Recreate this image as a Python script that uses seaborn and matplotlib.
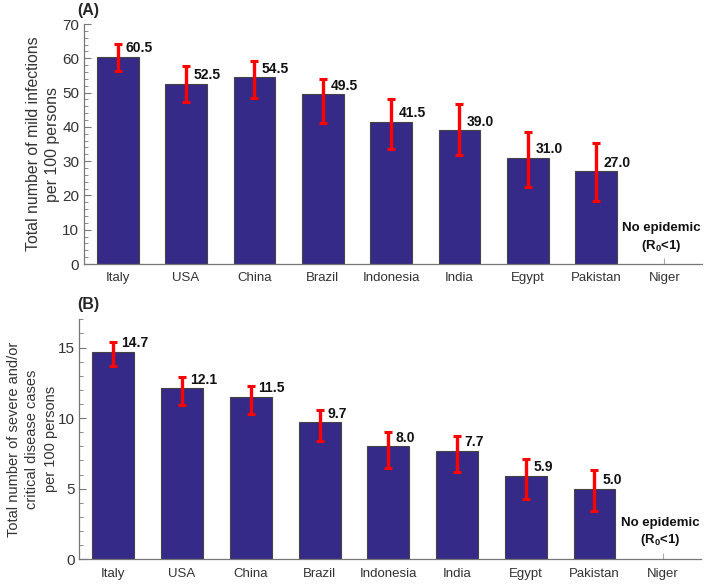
import numpy as np
import pandas as pd
import seaborn as sns
import matplotlib.pyplot as plt
from matplotlib.ticker import MultipleLocator

countries = ['Italy', 'USA', 'China', 'Brazil', 'Indonesia', 'India', 'Egypt', 'Pakistan', 'Niger']

mild = [60.5, 52.5, 54.5, 49.5, 41.5, 39.0, 31.0, 27.0, np.nan]
mild_lo = [56.2, 47.3, 48.5, 41.2, 33.6, 31.8, 22.6, 18.5, np.nan]
mild_hi = [64.3, 57.7, 59.2, 53.9, 48.0, 46.6, 38.6, 35.2, np.nan]

severe = [14.7, 12.1, 11.5, 9.7, 8.0, 7.7, 5.9, 5.0, np.nan]
severe_lo = [13.7, 10.9, 10.3, 8.4, 6.5, 6.2, 4.3, 3.4, np.nan]
severe_hi = [15.4, 12.9, 12.3, 10.6, 9.0, 8.7, 7.1, 6.3, np.nan]

sns.set_style('ticks')
plt.rcParams['font.family'] = ['Liberation Sans', 'DejaVu Sans']
plt.rcParams['mathtext.fontset'] = 'custom'
plt.rcParams['mathtext.rm'] = 'Liberation Sans:bold'
plt.rcParams['mathtext.it'] = 'Liberation Sans:bold'

BAR = '#352a87'
GREY = '#777777'
TXT = '#333333'

fig = plt.figure(figsize=(7.04, 5.84), dpi=100)
ax_a = fig.add_axes([83.5 / 704, 1 - 264 / 584, (702 - 83.5) / 704, 240 / 584])
ax_b = fig.add_axes([79 / 704, 1 - 559.3 / 584, (701 - 79) / 704, 240 / 584])


def panel(ax, vals, lo, hi, ymax, major, minor, ylabel, lab_size, lab_spacing, lab_x, note_y):
    df = pd.DataFrame({'country': countries, 'value': vals})
    sns.barplot(data=df, x='country', y='value', order=countries, color=BAR,
                saturation=1, width=0.61, edgecolor='#444444', linewidth=0.8, ax=ax)
    v = np.array(vals)
    yerr = np.vstack([v - np.array(lo), np.array(hi) - v])
    xs = np.arange(len(countries))
    ax.errorbar(xs, v, yerr=yerr, fmt='none', ecolor='#ff0000', elinewidth=2.4,
                capsize=3, capthick=2.2, zorder=4)
    for x, val in zip(xs, vals):
        if np.isnan(val):
            continue
        ax.annotate(f'{val:.1f}', (x, val), xytext=(5.5, 6.2), textcoords='offset points',
                    ha='left', va='center', fontsize=10, fontweight='bold', color='#111111')
    ax.text(7.96, note_y, 'No epidemic\n(R$_0$<1)', ha='center', va='bottom',
            fontsize=9.5, fontweight='bold', color='#111111', linespacing=1.3)
    ax.set_xlim(-0.5, 8.55)
    ax.set_ylim(0, ymax)
    ax.yaxis.set_major_locator(MultipleLocator(major))
    ax.yaxis.set_minor_locator(MultipleLocator(minor))
    ax.set_axisbelow(True)
    sns.despine(ax=ax)
    for s in ['left', 'bottom']:
        ax.spines[s].set_color(GREY)
        ax.spines[s].set_linewidth(0.9)
    ax.tick_params(axis='y', which='major', direction='in', length=5, color=GREY,
                   labelsize=11, labelcolor=TXT, pad=3)
    ax.tick_params(axis='y', which='minor', direction='in', length=3, color=GREY)
    ax.tick_params(axis='x', direction='in', length=4, color='#aaaaaa',
                   labelsize=9.5, labelcolor=TXT, pad=6)
    ax.set_xlabel('')
    ax.set_ylabel(ylabel, fontsize=lab_size, color=TXT, linespacing=lab_spacing)
    ax.yaxis.set_label_coords(lab_x, 0.5)


panel(ax_a, mild, mild_lo, mild_hi, 70, 10, 2,
      'Total number of mild infections\nper 100 persons', 11.4, 1.35, -0.038, 3.0)
panel(ax_b, severe, severe_lo, severe_hi, 17, 5, 1,
      'Total number of severe and/or\ncritical disease cases\nper 100 persons', 10.5, 1.4, -0.034, 0.8)

fig.text(77 / 704, 1 - 10 / 584, '(A)', ha='left', va='center', fontsize=11.5, fontweight='bold')
fig.text(77 / 704, 1 - 305 / 584, '(B)', ha='left', va='center', fontsize=11.5, fontweight='bold')

fig.savefig('out.png', dpi=100)
